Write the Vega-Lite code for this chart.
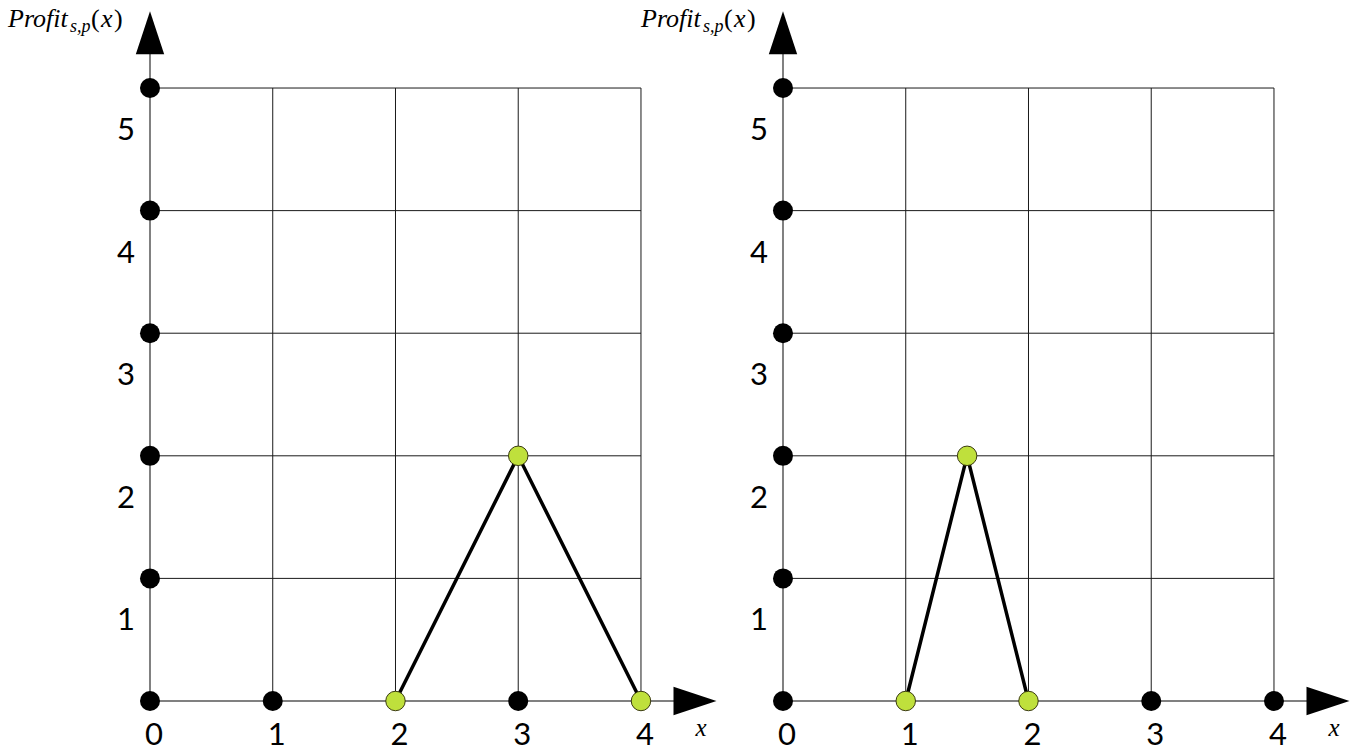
{
  "$schema": "https://vega.github.io/schema/vega-lite/v6.json",
  "padding": 0,
  "spacing": 0,
  "bounds": "flush",
  "config": {"view": {"stroke": null}},
  "datasets": {
    "vgrid": [{"x": 1}, {"x": 2}, {"x": 3}, {"x": 4}],
    "hgrid": [{"y": 1}, {"y": 2}, {"y": 3}, {"y": 4}, {"y": 5}],
    "axes": [{"x": 0, "y": 0, "x2": 0, "y2": 5.45}, {"x": 0, "y": 0, "x2": 4.44, "y2": 0}],
    "ydots": [{"y": 0}, {"y": 1}, {"y": 2}, {"y": 3}, {"y": 4}, {"y": 5}],
    "xdots": [{"panel": "A", "x": 1}, {"panel": "A", "x": 3}, {"panel": "B", "x": 3}, {"panel": "B", "x": 4}],
    "curve": [
      {"panel": "A", "x": 2, "y": 0}, {"panel": "A", "x": 3, "y": 2}, {"panel": "A", "x": 4, "y": 0},
      {"panel": "B", "x": 1, "y": 0}, {"panel": "B", "x": 1.5, "y": 2}, {"panel": "B", "x": 2, "y": 0}
    ],
    "arrows": [{"x": 0, "y": 5.45, "dir": "up"}, {"x": 4.44, "y": 0, "dir": "right"}],
    "xticks": [{"v": 0}, {"v": 1}, {"v": 2}, {"v": 3}, {"v": 4}],
    "yticks": [{"v": 1}, {"v": 2}, {"v": 3}, {"v": 4}, {"v": 5}],
    "one": [{"k": 1}]
  },
  "hconcat": [
    {
      "width": 633, "height": 752,
      "layer": [
        {"data": {"name": "vgrid"}, "mark": {"type": "rule", "color": "#1a1a1a", "strokeWidth": 1},
         "encoding": {"x": {"field": "x", "type": "quantitative", "scale": {"domain": [-1.222, 3.935], "nice": false, "zero": false}, "axis": null},
                      "y": {"datum": 0, "type": "quantitative", "scale": {"domain": [-0.416, 5.718], "nice": false, "zero": false}, "axis": null},
                      "y2": {"datum": 5}}},
        {"data": {"name": "hgrid"}, "mark": {"type": "rule", "color": "#1a1a1a", "strokeWidth": 1},
         "encoding": {"y": {"field": "y", "type": "quantitative"}, "x": {"datum": 0, "type": "quantitative"}, "x2": {"datum": 4}}},
        {"data": {"name": "axes"}, "mark": {"type": "rule", "color": "#808080", "strokeWidth": 2},
         "encoding": {"x": {"field": "x", "type": "quantitative"}, "y": {"field": "y", "type": "quantitative"}, "x2": {"field": "x2"}, "y2": {"field": "y2"}}},
        {"data": {"name": "curve"}, "transform": [{"filter": "datum.panel === 'A'"}], "mark": {"type": "line", "color": "#000000", "strokeWidth": 3.5},
         "encoding": {"x": {"field": "x", "type": "quantitative"}, "y": {"field": "y", "type": "quantitative"}}},
        {"data": {"name": "ydots"}, "mark": {"type": "point", "shape": "circle", "filled": true, "color": "#000000", "opacity": 1, "size": 400},
         "encoding": {"x": {"datum": 0, "type": "quantitative"}, "y": {"field": "y", "type": "quantitative"}}},
        {"data": {"name": "xdots"}, "transform": [{"filter": "datum.panel === 'A'"}], "mark": {"type": "point", "shape": "circle", "filled": true, "color": "#000000", "opacity": 1, "size": 400},
         "encoding": {"x": {"field": "x", "type": "quantitative"}, "y": {"datum": 0, "type": "quantitative"}}},
        {"data": {"name": "curve"}, "transform": [{"filter": "datum.panel === 'A'"}], "mark": {"type": "point", "shape": "circle", "filled": true, "fill": "#bfe03c", "stroke": "#3a3a10", "strokeWidth": 1, "opacity": 1, "size": 380},
         "encoding": {"x": {"field": "x", "type": "quantitative"}, "y": {"field": "y", "type": "quantitative"}}},
        {"data": {"name": "arrows"}, "mark": {"type": "point", "filled": true, "color": "#000000", "opacity": 1, "size": 1849},
         "encoding": {"x": {"field": "x", "type": "quantitative"}, "y": {"field": "y", "type": "quantitative"},
                      "shape": {"field": "dir", "type": "nominal", "scale": {"domain": ["up", "right"], "range": ["M0,-1L0.66,1L-0.66,1Z", "M1,0L-1,0.66L-1,-0.66Z"]}, "legend": null}}},
        {"data": {"name": "xticks"}, "mark": {"type": "text", "font": "Lato", "fontSize": 31, "align": "center", "baseline": "alphabetic", "dx": 4, "dy": 44, "color": "#000000"},
         "encoding": {"x": {"field": "v", "type": "quantitative"}, "y": {"datum": 0, "type": "quantitative"}, "text": {"field": "v", "type": "quantitative"}}},
        {"data": {"name": "yticks"}, "mark": {"type": "text", "font": "Lato", "fontSize": 31, "align": "center", "baseline": "alphabetic", "dx": -24, "dy": 52, "color": "#000000"},
         "encoding": {"x": {"datum": 0, "type": "quantitative"}, "y": {"field": "v", "type": "quantitative"}, "text": {"field": "v", "type": "quantitative"}}},
        {"data": {"name": "one"}, "mark": {"type": "text", "text": "x", "font": "Liberation Serif", "fontStyle": "italic", "fontSize": 25, "align": "center", "baseline": "alphabetic", "dy": 35, "color": "#000000"},
         "encoding": {"x": {"datum": 4.49, "type": "quantitative"}, "y": {"datum": 0, "type": "quantitative"}}},
        {"data": {"name": "one"}, "mark": {"type": "text", "text": "Profit", "font": "Liberation Serif", "fontStyle": "italic", "fontSize": 26, "align": "left", "baseline": "alphabetic", "dx": -142, "color": "#000000"},
         "encoding": {"x": {"datum": 0, "type": "quantitative"}, "y": {"datum": 5.5, "type": "quantitative"}}},
        {"data": {"name": "one"}, "mark": {"type": "text", "text": "s,p", "font": "Liberation Serif", "fontStyle": "italic", "fontSize": 18, "align": "left", "baseline": "alphabetic", "dx": -80, "dy": 5, "color": "#000000"},
         "encoding": {"x": {"datum": 0, "type": "quantitative"}, "y": {"datum": 5.5, "type": "quantitative"}}},
        {"data": {"name": "one"}, "mark": {"type": "text", "text": "(", "font": "Liberation Serif", "fontSize": 26, "align": "left", "baseline": "alphabetic", "dx": -59, "color": "#000000"},
         "encoding": {"x": {"datum": 0, "type": "quantitative"}, "y": {"datum": 5.5, "type": "quantitative"}}},
        {"data": {"name": "one"}, "mark": {"type": "text", "text": "x", "font": "Liberation Serif", "fontStyle": "italic", "fontSize": 26, "align": "left", "baseline": "alphabetic", "dx": -49, "color": "#000000"},
         "encoding": {"x": {"datum": 0, "type": "quantitative"}, "y": {"datum": 5.5, "type": "quantitative"}}},
        {"data": {"name": "one"}, "mark": {"type": "text", "text": ")", "font": "Liberation Serif", "fontSize": 26, "align": "left", "baseline": "alphabetic", "dx": -36, "color": "#000000"},
         "encoding": {"x": {"datum": 0, "type": "quantitative"}, "y": {"datum": 5.5, "type": "quantitative"}}}
      ]
    },
    {
      "width": 633, "height": 752,
      "layer": [
        {"data": {"name": "vgrid"}, "mark": {"type": "rule", "color": "#1a1a1a", "strokeWidth": 1},
         "encoding": {"x": {"field": "x", "type": "quantitative", "scale": {"domain": [-1.222, 3.935], "nice": false, "zero": false}, "axis": null},
                      "y": {"datum": 0, "type": "quantitative", "scale": {"domain": [-0.416, 5.718], "nice": false, "zero": false}, "axis": null},
                      "y2": {"datum": 5}}},
        {"data": {"name": "hgrid"}, "mark": {"type": "rule", "color": "#1a1a1a", "strokeWidth": 1},
         "encoding": {"y": {"field": "y", "type": "quantitative"}, "x": {"datum": 0, "type": "quantitative"}, "x2": {"datum": 4}}},
        {"data": {"name": "axes"}, "mark": {"type": "rule", "color": "#808080", "strokeWidth": 2},
         "encoding": {"x": {"field": "x", "type": "quantitative"}, "y": {"field": "y", "type": "quantitative"}, "x2": {"field": "x2"}, "y2": {"field": "y2"}}},
        {"data": {"name": "curve"}, "transform": [{"filter": "datum.panel === 'B'"}], "mark": {"type": "line", "color": "#000000", "strokeWidth": 3.5},
         "encoding": {"x": {"field": "x", "type": "quantitative"}, "y": {"field": "y", "type": "quantitative"}}},
        {"data": {"name": "ydots"}, "mark": {"type": "point", "shape": "circle", "filled": true, "color": "#000000", "opacity": 1, "size": 400},
         "encoding": {"x": {"datum": 0, "type": "quantitative"}, "y": {"field": "y", "type": "quantitative"}}},
        {"data": {"name": "xdots"}, "transform": [{"filter": "datum.panel === 'B'"}], "mark": {"type": "point", "shape": "circle", "filled": true, "color": "#000000", "opacity": 1, "size": 400},
         "encoding": {"x": {"field": "x", "type": "quantitative"}, "y": {"datum": 0, "type": "quantitative"}}},
        {"data": {"name": "curve"}, "transform": [{"filter": "datum.panel === 'B'"}], "mark": {"type": "point", "shape": "circle", "filled": true, "fill": "#bfe03c", "stroke": "#3a3a10", "strokeWidth": 1, "opacity": 1, "size": 380},
         "encoding": {"x": {"field": "x", "type": "quantitative"}, "y": {"field": "y", "type": "quantitative"}}},
        {"data": {"name": "arrows"}, "mark": {"type": "point", "filled": true, "color": "#000000", "opacity": 1, "size": 1849},
         "encoding": {"x": {"field": "x", "type": "quantitative"}, "y": {"field": "y", "type": "quantitative"},
                      "shape": {"field": "dir", "type": "nominal", "scale": {"domain": ["up", "right"], "range": ["M0,-1L0.66,1L-0.66,1Z", "M1,0L-1,0.66L-1,-0.66Z"]}, "legend": null}}},
        {"data": {"name": "xticks"}, "mark": {"type": "text", "font": "Lato", "fontSize": 31, "align": "center", "baseline": "alphabetic", "dx": 4, "dy": 44, "color": "#000000"},
         "encoding": {"x": {"field": "v", "type": "quantitative"}, "y": {"datum": 0, "type": "quantitative"}, "text": {"field": "v", "type": "quantitative"}}},
        {"data": {"name": "yticks"}, "mark": {"type": "text", "font": "Lato", "fontSize": 31, "align": "center", "baseline": "alphabetic", "dx": -24, "dy": 52, "color": "#000000"},
         "encoding": {"x": {"datum": 0, "type": "quantitative"}, "y": {"field": "v", "type": "quantitative"}, "text": {"field": "v", "type": "quantitative"}}},
        {"data": {"name": "one"}, "mark": {"type": "text", "text": "x", "font": "Liberation Serif", "fontStyle": "italic", "fontSize": 25, "align": "center", "baseline": "alphabetic", "dy": 35, "color": "#000000"},
         "encoding": {"x": {"datum": 4.49, "type": "quantitative"}, "y": {"datum": 0, "type": "quantitative"}}},
        {"data": {"name": "one"}, "mark": {"type": "text", "text": "Profit", "font": "Liberation Serif", "fontStyle": "italic", "fontSize": 26, "align": "left", "baseline": "alphabetic", "dx": -142, "color": "#000000"},
         "encoding": {"x": {"datum": 0, "type": "quantitative"}, "y": {"datum": 5.5, "type": "quantitative"}}},
        {"data": {"name": "one"}, "mark": {"type": "text", "text": "s,p", "font": "Liberation Serif", "fontStyle": "italic", "fontSize": 18, "align": "left", "baseline": "alphabetic", "dx": -80, "dy": 5, "color": "#000000"},
         "encoding": {"x": {"datum": 0, "type": "quantitative"}, "y": {"datum": 5.5, "type": "quantitative"}}},
        {"data": {"name": "one"}, "mark": {"type": "text", "text": "(", "font": "Liberation Serif", "fontSize": 26, "align": "left", "baseline": "alphabetic", "dx": -59, "color": "#000000"},
         "encoding": {"x": {"datum": 0, "type": "quantitative"}, "y": {"datum": 5.5, "type": "quantitative"}}},
        {"data": {"name": "one"}, "mark": {"type": "text", "text": "x", "font": "Liberation Serif", "fontStyle": "italic", "fontSize": 26, "align": "left", "baseline": "alphabetic", "dx": -49, "color": "#000000"},
         "encoding": {"x": {"datum": 0, "type": "quantitative"}, "y": {"datum": 5.5, "type": "quantitative"}}},
        {"data": {"name": "one"}, "mark": {"type": "text", "text": ")", "font": "Liberation Serif", "fontSize": 26, "align": "left", "baseline": "alphabetic", "dx": -36, "color": "#000000"},
         "encoding": {"x": {"datum": 0, "type": "quantitative"}, "y": {"datum": 5.5, "type": "quantitative"}}}
      ]
    }
  ]
}
